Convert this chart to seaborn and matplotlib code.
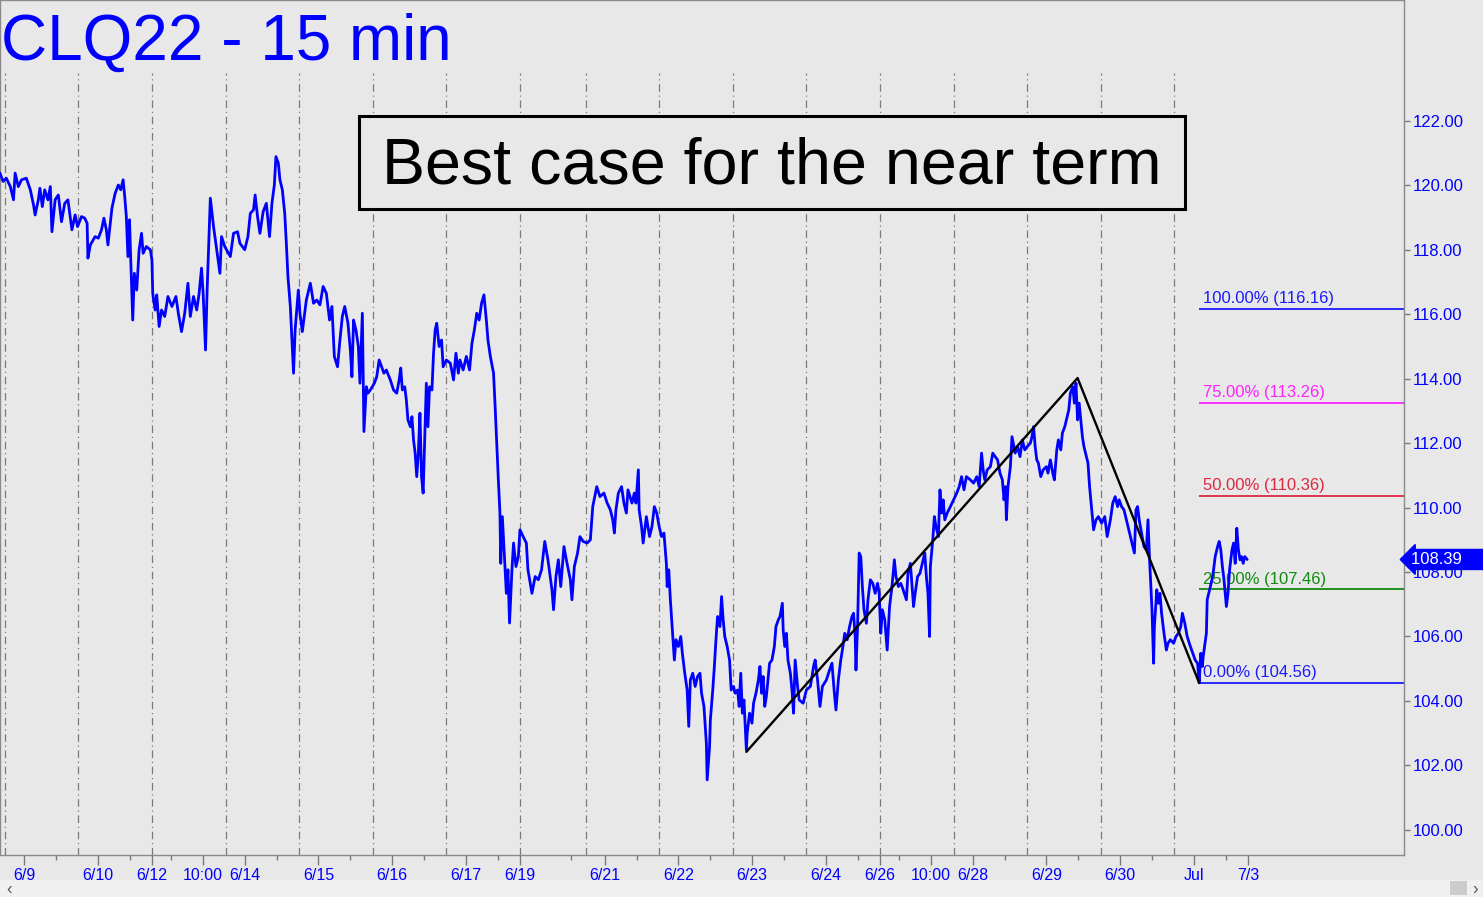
import matplotlib
matplotlib.use("Agg")
import matplotlib.pyplot as plt
from matplotlib.patches import Rectangle
import pandas as pd
import seaborn as sns

# 15-min bars counted from the 6/8 18:00 open (92 bars per session)
bars = [
    -6, -2, 2, 7, 11, 13, 17, 21, 27, 32,
    36, 38, 42, 44, 47, 50, 54, 57, 59, 63,
    67, 71, 75, 79, 84, 88, 91, 96, 100, 103,
    104, 107, 113, 117, 121, 124, 127, 129, 134, 138,
    142, 145, 148, 150, 152, 154, 156, 157, 160, 162,
    165, 168, 171, 173, 177, 182, 184, 185, 188, 190,
    193, 196, 200, 204, 209, 214, 217, 221, 225, 229,
    232, 236, 240, 243, 246, 248, 251, 253, 256, 257,
    261, 265, 269, 271, 275, 282, 286, 291, 294, 300,
    304, 307, 311, 313, 316, 319, 323, 327, 331, 334,
    337, 339, 342, 344, 347, 350, 352, 354, 357, 361,
    363, 367, 369, 372, 377, 382, 386, 390, 394, 398,
    402, 406, 409, 412, 416, 419, 422, 425, 429, 432,
    434, 436, 439, 442, 444, 447, 449, 452, 454, 457,
    462, 465, 468, 471, 474, 477, 482, 486, 490, 493,
    495, 497, 500, 502, 504, 507, 509, 511, 513, 515,
    517, 519, 521, 523, 525, 527, 529, 531, 534, 536,
    538, 540, 543, 546, 548, 552, 557, 561, 564, 567,
    569, 573, 577, 581, 584, 587, 590, 593, 596, 599,
    602, 604, 607, 611, 613, 615, 617, 619, 620, 622,
    624, 627, 629, 631, 634, 636, 639, 642, 644, 648,
    652, 654, 659, 663, 667, 671, 675, 679, 684, 686,
    689, 692, 695, 699, 702, 707, 709, 712, 716, 719,
    723, 728, 732, 735, 740, 744, 749, 753, 757, 760,
    762, 764, 767, 771, 774, 777, 779, 784, 787, 789,
    792, 793, 796, 798, 802, 806, 809, 812, 815, 818,
    821, 824, 827, 828, 830, 832, 835, 837, 839, 842,
    845, 847, 850, 853, 855, 857, 860, 863, 866, 869,
    871, 874, 877, 878, 881, 882, 885, 887, 889, 891,
    894, 896, 898, 900, 903, 906, 908, 911, 913, 916,
    918, 920, 922, 924, 927, 928, 931, 934, 936, 939,
    942, 944, 946, 948, 950, 952, 956, 959, 962, 964,
    967, 969, 972, 973, 975, 977, 979, 982, 984, 986,
    988, 991, 993, 998, 1002, 1007, 1011, 1013, 1016, 1019,
    1022, 1027, 1031, 1034, 1037, 1039, 1042, 1045, 1047, 1050,
    1053, 1056, 1059, 1061, 1063, 1064, 1066, 1068, 1070, 1072,
    1074, 1077, 1079, 1082, 1085, 1088, 1091, 1093, 1095, 1097,
    1100, 1103, 1106, 1109, 1112, 1114, 1117, 1120, 1123, 1127,
    1129, 1132, 1136, 1138, 1141, 1144, 1147, 1150, 1152, 1154,
    1156, 1157, 1160, 1162, 1164, 1167, 1169, 1171, 1173, 1175,
    1178, 1182, 1186, 1190, 1193, 1196, 1199, 1202, 1207, 1211,
    1215, 1218, 1221, 1223, 1225, 1228, 1232, 1235, 1238, 1241,
    1244, 1247, 1249, 1251, 1252, 1254, 1257, 1259, 1263, 1266,
    1269, 1272, 1275, 1278, 1282, 1284, 1286, 1288, 1290, 1292,
    1295, 1298, 1302, 1304, 1307, 1310, 1312, 1315, 1317, 1320,
    1322, 1325, 1327, 1330, 1332, 1335, 1337, 1339, 1341, 1343,
    1345, 1347, 1349, 1352, 1354, 1356, 1359, 1361, 1364, 1367,
    1371, 1375, 1378, 1382, 1385, 1388, 1391, 1393, 1396, 1399,
    1402, 1404, 1407, 1410, 1412, 1414, 1416, 1418, 1421, 1424,
    1427, 1429, 1431, 1432, 1434, 1436, 1437, 1440, 1442, 1444,
    1446, 1449, 1452, 1454, 1457, 1461, 1464, 1467, 1470, 1472,
    1475, 1478, 1482, 1485, 1488, 1491, 1493, 1495, 1497, 1498,
    1502, 1503, 1506, 1509, 1511, 1513, 1516, 1518, 1520, 1522,
    1524, 1527, 1529, 1531, 1534, 1536, 1538, 1540, 1542, 1544,
    1546, 1548, 1550, 1553,
]
prices = [
    120.38, 120.12, 120.22, 119.96, 119.55, 120.38, 119.96, 120.17, 120.22, 119.86,
    119.39, 119.08, 119.55, 119.91, 119.34, 119.86, 119.55, 119.96, 118.56, 119.55,
    119.70, 118.87, 119.44, 119.55, 118.62, 119.08, 118.72, 119.03, 118.98, 118.82,
    117.74, 118.15, 118.41, 118.36, 118.62, 118.98, 118.62, 118.15, 119.29, 119.75,
    120.01, 119.86, 120.17, 119.65, 119.03, 117.79, 118.93, 118.10, 115.82, 117.27,
    116.75, 118.00, 118.51, 117.89, 118.10, 118.00, 117.69, 116.65, 116.13, 116.60,
    115.62, 116.13, 115.93, 116.55, 116.24, 116.55, 116.03, 115.46, 116.03, 116.96,
    115.93, 116.55, 116.13, 116.65, 117.43, 116.65, 114.89, 116.75, 118.82, 119.60,
    118.72, 118.00, 117.27, 118.41, 118.10, 117.79, 118.51, 118.56, 118.20, 118.00,
    118.41, 119.13, 119.24, 119.70, 119.03, 118.51, 119.18, 119.44, 118.41, 119.44,
    120.01, 120.89, 120.69, 120.17, 119.86, 119.13, 118.20, 117.17, 116.24, 114.17,
    115.51, 116.75, 116.03, 115.46, 116.44, 116.96, 116.34, 116.44, 116.29, 116.86,
    116.65, 115.82, 116.24, 114.69, 114.37, 115.20, 115.93, 116.24, 115.72, 114.89,
    114.06, 115.82, 115.51, 115.00, 113.86, 116.03, 112.36, 113.75, 113.55, 113.65,
    113.86, 114.06, 114.58, 114.37, 114.17, 114.27, 113.96, 113.65, 113.55, 113.96,
    114.33, 113.65, 113.75, 113.34, 112.72, 112.51, 112.82, 112.10, 111.69, 110.96,
    111.69, 112.93, 110.96, 110.45, 112.20, 113.86, 112.51, 113.75, 113.65, 114.79,
    115.51, 115.72, 115.00, 115.20, 114.37, 114.58, 114.48, 113.96, 114.79, 114.17,
    114.58, 114.27, 114.69, 114.27, 115.10, 115.51, 116.03, 115.82, 116.34, 116.60,
    115.82, 115.20, 114.69, 114.17, 113.13, 112.00, 110.86, 109.83, 108.27, 109.72,
    108.79, 107.34, 108.07, 106.42, 108.07, 108.90, 108.17, 108.48, 109.31, 109.10,
    108.90, 108.07, 107.34, 107.86, 107.76, 108.07, 108.95, 108.38, 107.45, 106.83,
    107.86, 108.38, 107.55, 108.79, 108.38, 107.76, 107.14, 108.17, 108.59, 109.10,
    108.95, 108.90, 109.00, 110.03, 110.65, 110.34, 110.45, 110.14, 109.93, 109.62,
    109.21, 109.93, 110.45, 110.65, 110.14, 109.83, 110.55, 110.14, 110.45, 110.14,
    111.17, 109.93, 109.41, 108.90, 109.72, 109.10, 109.41, 110.03, 109.83, 109.41,
    109.10, 109.21, 108.27, 107.55, 108.07, 107.14, 106.00, 105.27, 105.90, 105.69,
    106.00, 105.48, 104.86, 104.34, 103.21, 104.65, 104.86, 104.45, 104.76, 104.86,
    104.24, 103.83, 102.69, 101.55, 102.58, 103.41, 104.34, 105.07, 105.90, 106.62,
    106.31, 107.24, 106.52, 106.00, 105.69, 105.27, 104.34, 104.45, 104.24, 104.34,
    103.83, 104.86, 103.62, 104.03, 102.48, 103.00, 103.62, 103.31, 103.93, 104.24,
    104.65, 105.07, 104.24, 104.76, 103.83, 104.14, 105.17, 105.27, 105.69, 106.31,
    106.52, 106.62, 107.03, 106.21, 105.69, 106.10, 105.27, 104.86, 104.34, 103.62,
    105.27, 104.45, 104.03, 103.93, 104.34, 104.45, 105.07, 105.27, 104.65, 103.83,
    104.45, 104.65, 104.96, 105.17, 104.24, 103.72, 104.65, 105.27, 105.58, 106.10,
    105.90, 106.31, 106.62, 106.72, 106.00, 104.96, 106.31, 108.59, 108.48, 107.55,
    106.83, 106.41, 107.14, 107.76, 107.65, 107.34, 107.65, 107.34, 106.10, 106.83,
    106.52, 105.58, 106.93, 107.55, 108.38, 107.86, 107.55, 107.65, 107.45, 107.14,
    107.96, 108.27, 106.93, 107.34, 107.86, 107.96, 108.27, 108.59, 107.86, 107.34,
    106.00, 108.17, 109.00, 109.72, 109.41, 109.10, 110.55, 109.83, 110.24, 109.62,
    109.83, 110.03, 110.24, 110.45, 110.65, 110.96, 110.55, 110.96, 110.86, 110.76,
    110.96, 110.65, 111.69, 111.17, 110.86, 111.17, 111.27, 111.69, 111.58, 111.48,
    111.07, 110.86, 110.24, 110.65, 109.62, 110.65, 111.27, 112.20, 111.69, 111.89,
    111.58, 112.10, 111.79, 111.89, 112.00, 112.20, 112.51, 111.89, 111.48, 111.38,
    110.96, 111.17, 111.27, 111.07, 111.48, 111.07, 110.86, 111.79, 112.10, 111.79,
    112.31, 112.51, 112.72, 113.03, 113.55, 113.75, 113.24, 113.86, 112.72, 113.24,
    112.72, 112.20, 111.89, 111.58, 111.38, 110.65, 109.83, 109.31, 109.62, 109.72,
    109.52, 109.72, 109.10, 109.62, 110.14, 110.34, 110.03, 110.24, 110.03, 109.93,
    109.62, 109.41, 109.10, 108.79, 108.59, 109.93, 110.03, 109.62, 109.21, 108.79,
    108.69, 109.62, 108.38, 107.86, 106.83, 105.17, 106.31, 107.45, 107.03, 107.34,
    106.72, 106.10, 105.58, 105.79, 105.90, 105.79, 106.00, 106.10, 106.31, 106.72,
    106.41, 106.00, 105.69, 105.48, 105.27, 105.17, 104.56, 105.48, 105.07, 105.38,
    106.10, 107.14, 107.45, 107.76, 108.07, 108.48, 108.79, 108.95, 108.69, 108.17,
    107.76, 106.93, 107.34, 108.07, 108.69, 108.90, 108.27, 109.36, 108.69, 108.38,
    108.48, 108.27, 108.48, 108.39,
]

# session opens (dash-dot separators) and the date axis
session_starts = [0, 92, 184, 276, 368, 460, 552, 644, 726, 818, 910,
                  1002, 1094, 1186, 1278, 1370, 1462]
date_ticks = [24, 116, 184, 248, 300, 392, 484, 576, 644, 750, 842, 934,
              1026, 1094, 1158, 1210, 1302, 1394, 1486, 1554]
date_labels = ['6/9', '6/10', '6/12', '10:00', '6/14', '6/15', '6/16', '6/17',
               '6/19', '6/21', '6/22', '6/23', '6/24', '6/26', '10:00', '6/28',
               '6/29', '6/30', 'Jul', '7/3']
minor_ticks = [64, 156, 208, 340, 432, 524, 616, 708, 790, 882, 974, 1066,
               1118, 1250, 1342, 1434, 1526]
price_ticks = [100, 102, 104, 106, 108, 110, 112, 114, 116, 118, 120, 122]

# A-B-C swing and the projection levels measured from C
abc_bars = [927, 1341, 1493]
abc_prices = [102.42, 114.02, 104.56]
fib_pcts = ['100.00%', '75.00%', '50.00%', '25.00%', '0.00%']
fib_levels = [116.16, 113.26, 110.36, 107.46, 104.56]
fib_colors = ['#1a1aff', '#ff22ff', '#dc2840', '#108a10', '#1a1aff']
fib_start = 1493
last_price = 108.39

BG = '#e8e8e8'
BLUE = '#0000ff'
GRID = '#7a7a7a'

sns.set_style('white', {'axes.facecolor': BG, 'figure.facecolor': BG})
plt.rcParams['font.family'] = ['Liberation Sans', 'DejaVu Sans']

fig = plt.figure(figsize=(14.83, 8.97), dpi=100)
ax = fig.add_axes([0, 42 / 897, 1404 / 1483, 855 / 897])
ax.set_xlim(-5.9, 1749)
ax.set_ylim(99.22, 125.75)

ax.vlines(session_starts, 99.22, 123.5, colors=GRID, lw=0.9,
          linestyles=[(0, (6, 3, 1, 3))], zorder=1)

# projection lines
ax.hlines(fib_levels, fib_start, 1749, colors=fib_colors, lw=1.3, zorder=2)
for pct, lvl, col in zip(fib_pcts, fib_levels, fib_colors):
    ax.annotate(f'{pct} ({lvl:.2f})', xy=(fib_start, lvl), xytext=(3, 2),
                textcoords='offset points', ha='left', va='bottom',
                color=col, fontsize=12, zorder=3)

df = pd.DataFrame({'bar': bars, 'price': prices})
sns.lineplot(data=df, x='bar', y='price', sort=False, estimator=None,
             color=BLUE, lw=2.0, ax=ax, zorder=4)
ax.plot(abc_bars, abc_prices, color='black', lw=1.7, zorder=5)

# axes cosmetics
ax.set_xlabel('')
ax.set_ylabel('')
ax.yaxis.tick_right()
ax.set_yticks(price_ticks)
ax.set_yticklabels([f'{v:.2f}' for v in price_ticks])
ax.set_xticks(date_ticks)
ax.set_xticklabels(date_labels)
ax.set_xticks(minor_ticks, minor=True)
ax.tick_params(axis='y', which='major', right=True, left=False, length=4,
               width=1, pad=2, color=GRID, labelcolor=BLUE, labelsize=12)
ax.tick_params(axis='x', which='major', bottom=True, length=7, width=1,
               pad=2, color=GRID, labelcolor=BLUE, labelsize=11.5)
ax.tick_params(axis='x', which='minor', bottom=True, length=3.5, width=1,
               color=GRID)
for s in ax.spines.values():
    s.set_color('#8a8a8a')
    s.set_linewidth(1)

ax.annotate(f'{last_price:.2f}    ', xy=(1.0, last_price),
            xycoords=('axes fraction', 'data'), xytext=(5, 0),
            textcoords='offset points', ha='left', va='center',
            color='white', fontsize=12, annotation_clip=False,
            bbox=dict(boxstyle='larrow,pad=0.15', fc=BLUE, ec=BLUE), zorder=6)

# title and caption box
fig.text(0.001, 1 - 60 / 897, 'CLQ22 - 15 min', fontsize=46, color=BLUE,
         ha='left', va='baseline')
fig.add_artist(Rectangle((359 / 1483, 1 - 209 / 897), 826 / 1483, 93 / 897,
                         transform=fig.transFigure, fc=BG, ec='black',
                         lw=2.2, zorder=3))
fig.text(772 / 1483, 1 - 183 / 897, 'Best case for the near term',
         fontsize=46.5, ha='center', va='baseline', color='black', zorder=4)

# scroll bar strip
fig.add_artist(Rectangle((0, 0), 1, 17 / 897, transform=fig.transFigure,
                         fc='#f0f0f0', ec='none', zorder=3))
fig.add_artist(Rectangle((1450 / 1483, 2 / 897), 17 / 1483, 14 / 897,
                         transform=fig.transFigure, fc='#cccccc', ec='none',
                         zorder=4))
fig.text(6 / 1483, 8 / 897, '\u2039', fontsize=12, color='#555555',
         va='center', zorder=5)
fig.text(1472 / 1483, 8 / 897, '\u203a', fontsize=12, color='#555555',
         va='center', zorder=5)

fig.savefig('out.png', dpi=100, facecolor=BG)
